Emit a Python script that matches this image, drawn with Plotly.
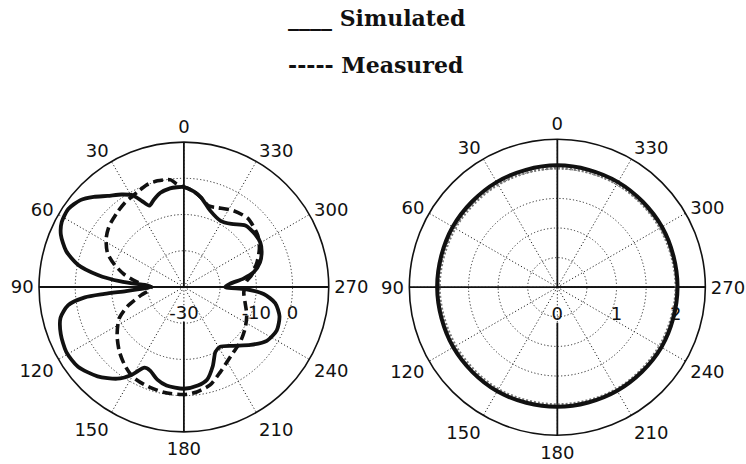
import plotly.graph_objects as go

# ---- Left panel: radiation pattern in dB ----
sim_theta = [0, 4, 8, 14, 19, 23, 26, 29, 34, 40, 45, 50, 56, 62, 67, 73, 78, 82, 85, 88, 90,
             92, 94, 95, 96, 99, 104, 111, 119, 127, 136, 144, 149, 154, 158, 164, 170, 180,
             188, 194, 200, 206, 211, 220, 229, 237, 245, 253, 260, 265, 268, 270,
             274, 278, 282, 288, 294, 300, 308, 315, 323, 331, 341, 349, 354, 358, 360]
sim_db = [-2.4, -2.4, -2.5, -3.2, -4.5, -5.6, -3.6, -1.1, 0.8, 2.8, 5.2, 7.3, 8.5, 8.2, 6.9, 4.0, 0.0, -6.0, -12.5, -19.9, -21.0,
          -19.0, -14.0, -8.0, -2.5, 2.4, 5.1, 6.4, 7.1, 6.6, 4.3, 1.3, -1.6, -5.2, -5.1, -3.4, -2.4, -1.9,
          -2.5, -3.6, -6.7, -10.1, -10.7, -8.8, -5.6, -2.7, -1.7, -2.4, -4.4, -7.9, -13.0, -18.6,
          -17.2, -13.4, -10.3, -7.9, -6.5, -5.6, -5.6, -6.0, -8.2, -9.1, -7.7, -4.9, -3.5, -2.7, -2.4]

meas_theta = [0, 4, 7, 14, 20, 25, 30, 35, 42, 51, 58, 66, 72, 78, 84, 89, 90,
              95, 101, 109, 116, 126, 135, 143, 150, 158, 169, 180,
              187, 195, 203, 214, 226, 236, 246, 256, 265, 270,
              275, 280, 289, 297, 305, 317, 327, 337, 343, 349, 354, 358, 360]
meas_db = [-2.4, -1.5, -0.2, 0.2, 0.0, -0.7, -1.2, -1.6, -2.4, -3.4, -4.7, -6.9, -9.8, -13.1, -17.1, -20.4, -21.0,
           -20.5, -17.9, -13.5, -10.1, -7.2, -4.8, -2.9, -1.5, -0.9, -0.4, -0.3,
           -0.8, -2.0, -4.4, -6.9, -8.3, -9.6, -11.0, -12.6, -13.4, -13.0,
           -12.7, -11.0, -8.6, -6.6, -5.1, -4.1, -4.9, -6.2, -6.6, -4.9, -3.5, -2.7, -2.4]

db_range = [-30, 10]
db_ticks = [-30, -20, -10, 0]
db_labels = ["-30", "", "-10", "0"]

# ---- Right panel: normalised amplitude ----
amp_theta = [0, 30, 60, 90, 120, 150, 180, 210, 240, 270, 300, 330, 360]
amp_sim = [2.06, 2.05, 2.04, 2.03, 2.03, 2.03, 2.02, 2.02, 2.03, 2.03, 2.04, 2.05, 2.06]
amp_meas = [2.01, 2.00, 1.99, 1.99, 1.98, 1.99, 1.98, 1.99, 1.99, 2.00, 2.00, 2.01, 2.01]

amp_range = [0, 2.5]
amp_ticks = [0, 0.5, 1, 1.5, 2]
amp_labels = ["0", "", "1", "", "2"]

angle_ticks = list(range(0, 360, 30))

INK = "#111111"
GRID = "#2a2a2a"
TICK_FONT = dict(family="DejaVu Sans, Verdana, sans-serif", size=18, color=INK)
LEGEND_FONT = dict(family="DejaVu Serif, Liberation Serif, serif", size=22, color=INK, weight="bold")

fig = go.Figure()


def axis_cross(subplot, rmin, rmax, gap):
    # solid 0-180 and 90-270 lines through the centre (gap under the centre label)
    for r, th in (([rmax, rmin], [0, 0]),
                  ([rmin + gap, rmax], [180, 180]),
                  ([rmax, rmin, rmax], [90, 90, 270])):
        fig.add_trace(go.Scatterpolar(r=r, theta=th, mode="lines",
                                      line=dict(color=INK, width=1.8), subplot=subplot,
                                      showlegend=False, hoverinfo="skip"))


axis_cross("polar", db_range[0], db_range[1], 9.7)
axis_cross("polar2", amp_range[0], amp_range[1], 0.6)

fig.add_trace(go.Scatterpolar(r=meas_db, theta=meas_theta, mode="lines", name="Measured",
                              line=dict(color=INK, width=3.6, dash="10px,5px", shape="spline", smoothing=0.7),
                              subplot="polar", showlegend=False))
fig.add_trace(go.Scatterpolar(r=sim_db, theta=sim_theta, mode="lines", name="Simulated",
                              line=dict(color=INK, width=3.8, shape="spline", smoothing=0.7),
                              subplot="polar", showlegend=False))

fig.add_trace(go.Scatterpolar(r=amp_meas, theta=amp_theta, mode="lines", name="Measured",
                              line=dict(color="#777777", width=2.5, dash="2px,2px", shape="spline"),
                              subplot="polar2", showlegend=False))
fig.add_trace(go.Scatterpolar(r=amp_sim, theta=amp_theta, mode="lines", name="Simulated",
                              line=dict(color=INK, width=4, shape="spline"),
                              subplot="polar2", showlegend=False))


def polar_layout(xdom, ydom, rrange, rticks, rlabels):
    return dict(
        domain=dict(x=xdom, y=ydom),
        bgcolor="white",
        angularaxis=dict(
            rotation=90, direction="counterclockwise",
            tickmode="array", tickvals=angle_ticks, ticktext=[str(a) for a in angle_ticks],
            showline=True, linecolor=INK, linewidth=1.6,
            showgrid=True, gridcolor=GRID, gridwidth=1.1, griddash="1.2px,2.2px",
            ticks="outside", ticklen=1, tickcolor="rgba(0,0,0,0)", tickfont=TICK_FONT,
        ),
        radialaxis=dict(
            range=rrange, angle=0, side="clockwise",
            tickmode="array", tickvals=rticks, ticktext=rlabels,
            showline=True, linecolor=INK, linewidth=1.8,
            showgrid=True, gridcolor=GRID, gridwidth=1.1, griddash="1.2px,2.2px",
            ticks="outside", ticklen=10, tickcolor="rgba(0,0,0,0)",
            tickfont=TICK_FONT, layer="below traces",
        ),
    )


fig.update_layout(
    width=746, height=464,
    margin=dict(l=0, r=0, t=0, b=0),
    paper_bgcolor="white",
    polar=polar_layout([0.0523, 0.4407], [0.069, 0.694], db_range, db_ticks, db_labels),
    polar2=polar_layout([0.5487, 0.9455], [0.062, 0.700], amp_range, amp_ticks, amp_labels),
    annotations=[
        dict(text="____ Simulated", x=286 / 746, y=1 - 18 / 464, xref="paper", yref="paper",
             xanchor="left", yanchor="middle", showarrow=False, font=LEGEND_FONT),
        dict(text="----- Measured", x=286 / 746, y=1 - 65 / 464, xref="paper", yref="paper",
             xanchor="left", yanchor="middle", showarrow=False, font=LEGEND_FONT),
    ],
)

fig.write_html("out.html")
